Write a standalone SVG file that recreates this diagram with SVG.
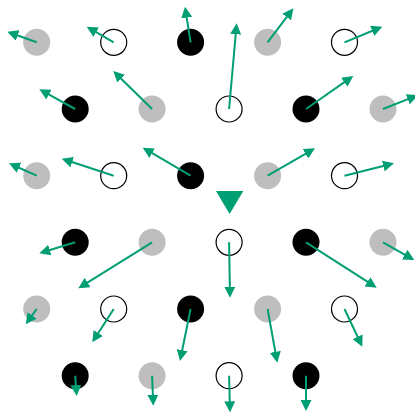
<svg xmlns="http://www.w3.org/2000/svg" width="415" height="414" viewBox="0 0 415 414">
<style>
.g{fill:#bebebe}
.b{fill:#000}
.o{fill:#fff;stroke:#000;stroke-width:1.2}
.a{stroke:#009e73;stroke-width:2;fill:none;marker-end:url(#ah)}
</style>
<defs>
<marker id="ah" viewBox="0 0 11 11" refX="5" refY="5.5" markerWidth="11" markerHeight="11" markerUnits="userSpaceOnUse" orient="auto">
<path d="M0,0 L11,5.5 L0,11 z" fill="#009e73"/>
</marker>
</defs>
<rect width="415" height="414" fill="#fff"/>
<g id="nodes">
<circle id="n00" class="g" cx="36.7" cy="42.3" r="13.5"/>
<circle id="n01" class="o" cx="113.7" cy="42.3" r="13"/>
<circle id="n02" class="b" cx="190.6" cy="42.3" r="13.5"/>
<circle id="n03" class="g" cx="267.6" cy="42.3" r="13.5"/>
<circle id="n04" class="o" cx="344.5" cy="42.3" r="13"/>
<circle id="n10" class="b" cx="75.2" cy="109" r="13.5"/>
<circle id="n11" class="g" cx="152.1" cy="109" r="13.5"/>
<circle id="n12" class="o" cx="229.1" cy="109" r="13"/>
<circle id="n13" class="b" cx="306" cy="109" r="13.5"/>
<circle id="n14" class="g" cx="383" cy="109" r="13.5"/>
<circle id="n20" class="g" cx="36.7" cy="175.7" r="13.5"/>
<circle id="n21" class="o" cx="113.7" cy="175.7" r="13"/>
<circle id="n22" class="b" cx="190.6" cy="175.7" r="13.5"/>
<circle id="n23" class="g" cx="267.6" cy="175.7" r="13.5"/>
<circle id="n24" class="o" cx="344.5" cy="175.7" r="13"/>
<circle id="n30" class="b" cx="75.2" cy="242.3" r="13.5"/>
<circle id="n31" class="g" cx="152.1" cy="242.3" r="13.5"/>
<circle id="n32" class="o" cx="229.1" cy="242.3" r="13"/>
<circle id="n33" class="b" cx="306" cy="242.3" r="13.5"/>
<circle id="n34" class="g" cx="383" cy="242.3" r="13.5"/>
<circle id="n40" class="g" cx="36.7" cy="309" r="13.5"/>
<circle id="n41" class="o" cx="113.7" cy="309" r="13"/>
<circle id="n42" class="b" cx="190.6" cy="309" r="13.5"/>
<circle id="n43" class="g" cx="267.6" cy="309" r="13.5"/>
<circle id="n44" class="o" cx="344.5" cy="309" r="13"/>
<circle id="n50" class="b" cx="75.2" cy="375.7" r="13.5"/>
<circle id="n51" class="g" cx="152.1" cy="375.7" r="13.5"/>
<circle id="n52" class="o" cx="229.1" cy="375.7" r="13"/>
<circle id="n53" class="b" cx="306" cy="375.7" r="13.5"/>
<polygon id="center" points="216,191 243.3,191 229.6,214" fill="#009e73"/>
</g>
<g id="connectors">
<line class="a" x1="36.7" y1="42.3" x2="12.95" y2="33.73"/>
<line class="a" x1="113.7" y1="42.3" x2="91.9" y2="29.7"/>
<line class="a" x1="190.6" y1="42.3" x2="185.93" y2="12.63"/>
<line class="a" x1="267.6" y1="42.3" x2="289.68" y2="13.09"/>
<line class="a" x1="344.5" y1="42.3" x2="376.76" y2="28.99"/>
<line class="a" x1="75.2" y1="109" x2="44.56" y2="92.19"/>
<line class="a" x1="152.1" y1="109" x2="117.58" y2="75.2"/>
<line class="a" x1="229.1" y1="109" x2="236.17" y2="29.28"/>
<line class="a" x1="306" y1="109" x2="348.38" y2="79.43"/>
<line class="a" x1="383" y1="109" x2="412.4" y2="97.4"/>
<line class="a" x1="36.7" y1="175.7" x2="14.48" y2="165.75"/>
<line class="a" x1="113.7" y1="175.7" x2="67.4" y2="160.57"/>
<line class="a" x1="190.6" y1="175.7" x2="147.88" y2="150.73"/>
<line class="a" x1="267.6" y1="175.7" x2="309.8" y2="151.3"/>
<line class="a" x1="344.5" y1="175.7" x2="388.18" y2="164.76"/>
<line class="a" x1="75.2" y1="242.3" x2="45.04" y2="251.54"/>
<line class="a" x1="152.1" y1="242.3" x2="83.39" y2="285.13"/>
<line class="a" x1="229.1" y1="242.3" x2="229.9" y2="291.7"/>
<line class="a" x1="306" y1="242.3" x2="371.65" y2="284.46"/>
<line class="a" x1="383" y1="242.3" x2="409.08" y2="257.05"/>
<line class="a" x1="36.7" y1="309" x2="29.2" y2="319.43"/>
<line class="a" x1="113.7" y1="309" x2="95.55" y2="337.25"/>
<line class="a" x1="190.6" y1="309" x2="181.2" y2="355.12"/>
<line class="a" x1="267.6" y1="309" x2="276.23" y2="356.8"/>
<line class="a" x1="344.5" y1="309" x2="359.74" y2="341.28"/>
<line class="a" x1="75.2" y1="375.7" x2="76.26" y2="390.02"/>
<line class="a" x1="152.1" y1="375.7" x2="153.06" y2="399.7"/>
<line class="a" x1="229.1" y1="375.7" x2="229.85" y2="406.3"/>
<line class="a" x1="306" y1="375.7" x2="306" y2="405"/>
</g>
</svg>
